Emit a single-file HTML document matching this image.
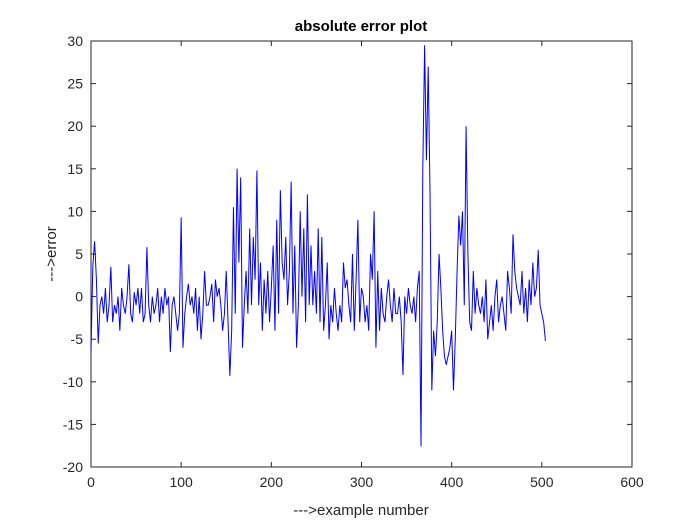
<!DOCTYPE html>
<html><head><meta charset="utf-8"><style>
html,body{margin:0;padding:0;background:#fff}
svg{display:block;font-family:"Liberation Sans",Arial,sans-serif}
</style></head><body>
<svg id="chart" width="700" height="525" viewBox="0 0 700 525">
<rect x="0" y="0" width="700" height="525" fill="#fff"/>
<text x="361" y="31" text-anchor="middle" font-size="15" font-weight="bold" fill="#000">absolute error plot</text>
<text x="361" y="515" text-anchor="middle" font-size="15" fill="#262626">---&gt;example number</text>
<text transform="translate(56,254) rotate(-90)" text-anchor="middle" font-size="15" fill="#262626">---&gt;error</text>
<g id="axes"></g>
<g id="plot"></g>
</svg>
<script>
const xTicks = [0,100,200,300,400,500,600];
const yTicks = [-20,-15,-10,-5,0,5,10,15,20,25,30];
const errorValues = [
-6.5,3.5,6.5,2,-5.5,-1,0,-2,1,-3,-1,3.5,-3,-1,-2,0,-4,1,-1,-2,0,3.8,-2,-3,0.5,-1,
1,-2,1,-3,-2,5.8,-1,-3,0,-2,-1,1,-3,0,-2,1,-1,0,-6.5,-1,0,-2,-4,-2,9.3,
-6,-2,0,1.5,-1,0,-2,1,-4,0,-5,-2,3,-1,-1,0,1.5,-3,2,0,1,-1,-4,-2,3,
-3,-9.3,-4,10.5,-2,15,4,14,-6,-1,3,-2,8,-1,7,2,14.8,-1,4,-4,2,-2,3,-3,1,
6,-4,9,-2,12.5,4,2,7,-1,3,13.5,-2,6,-6,-1,10,0,8,-3,12,-1,6,-1,3,-2,
8,-3,7,-4,-1,4,-5,-1,-3,1,-2,-4,-1,-3,4,1,2,-1,-3,5,-4,2,9,-3,1,
0,-3,-1,-4,5,2,10,-6,3,-4,1,-2,-3,0,2,-1,-3,1,-2,-2,0,-3,-9.2,0,-2,
1,-1,-2,0,-3,1,3,-17.6,15,29.5,16,27,12,-11,-4,-7,-3,5,1,-4,-7,-8,-7,-6,-4,
-11,-5,3,9.5,6,10,-1,20,5,-3,-4,3,-2,1,-1,-2,0,-3,2,-5,-3,-1,-4,0,2,
-3,-1,0,-2,-4,3,1,-2,7.3,3,1,0,-1,3,-2,1,-3,2,-1,4,0,1,5.5,-1,-2,-3,-5.2
];
const xStep = 2;
const L=91,R=632,T=41,B=467;
const xMin=0,xMax=600,yMin=-20,yMax=30;
function sx(v){return L+(v-xMin)/(xMax-xMin)*(R-L);}
function sy(v){return B-(v-yMin)/(yMax-yMin)*(B-T);}
const NS="http://www.w3.org/2000/svg";
const axes=document.getElementById('axes');
const plot=document.getElementById('plot');
function mk(tag,attrs,parent){const e=document.createElementNS(NS,tag);for(const k in attrs)e.setAttribute(k,attrs[k]);parent.appendChild(e);return e;}
const box=mk('rect',{x:L,y:T,width:R-L,height:B-T,fill:'none',stroke:'#262626','stroke-width':1},axes);


xTicks.forEach(t=>{
  const x=sx(t);
  const a=mk('line',{x1:x,y1:B,x2:x,y2:B-5,stroke:'#262626'},axes);
  
  
  const b=mk('line',{x1:x,y1:T,x2:x,y2:T+5,stroke:'#262626'},axes);
  
  
  const tx=mk('text',{x:x,y:B+20,'text-anchor':'middle','font-size':14,fill:'#262626'},axes);
  tx.textContent=t;
  
  
});
yTicks.forEach(t=>{
  const y=sy(t);
  const a=mk('line',{x1:L,y1:y,x2:L+5,y2:y,stroke:'#262626'},axes);
  
  
  const b=mk('line',{x1:R,y1:y,x2:R-5,y2:y,stroke:'#262626'},axes);
  
  
  const tx=mk('text',{x:L-8,y:y+5,'text-anchor':'end','font-size':14,fill:'#262626'},axes);
  tx.textContent=t;
  
  
});
const pts=errorValues.map((v,i)=>sx(i*xStep).toFixed(2)+','+sy(v).toFixed(2)).join(' ');
const line=mk('polyline',{points:pts,fill:'none',stroke:'#0000ff','stroke-width':1},plot);


</script>
</body></html>
